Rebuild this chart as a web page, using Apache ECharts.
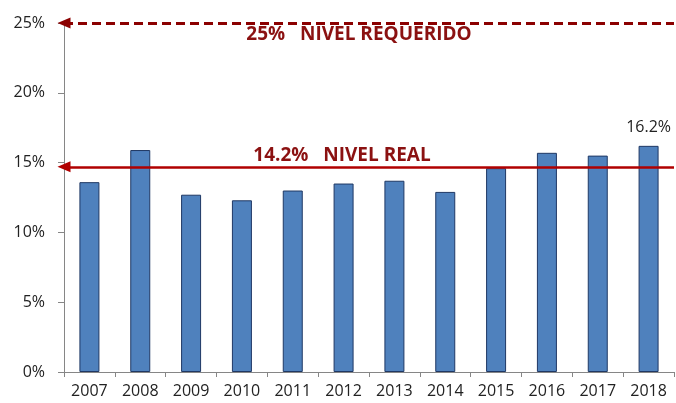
<!DOCTYPE html>
<html>
<head>
<meta charset="utf-8">
<script src="https://cdn.jsdelivr.net/npm/echarts@6/dist/echarts.min.js"></script>
<style>
  html, body { margin: 0; padding: 0; background: #fff; }
  #chart { width: 676px; height: 403px; }
</style>
</head>
<body>
<div id="chart"></div>
<script>
// años y valores (%)
const years = ['2007', '2008', '2009', '2010', '2011', '2012', '2013', '2014', '2015', '2016', '2017', '2018'];
const values = [13.6, 15.9, 12.7, 12.3, 13.0, 13.5, 13.7, 12.9, 14.6, 15.7, 15.5, 16.2];
const requiredLevel = 25;
const realLevel = 14.7;
const requiredText = '25%   NIVEL REQUERIDO';
const realText = '14.2%   NIVEL REAL';

const font = 'Open Sans';
const chart = echarts.init(document.getElementById('chart'));

const barData = values.map((v, i) => {
    if (i === values.length - 1) {
        return {
            value: v,
            label: {
                show: true, position: 'top', distance: 10,
                formatter: '{c}%', color: '#222', fontSize: 16, fontFamily: font
            }
        };
    }
    return v;
});

const option = {
    backgroundColor: '#fff',
    animation: false,
    grid: { left: 64, right: 2, top: 23, bottom: 31 },
    xAxis: {
        type: 'category',
        data: years,
        axisLine: { lineStyle: { color: '#868686', width: 1 } },
        axisTick: { show: true, length: 5, inside: false, lineStyle: { color: '#868686' } },
        axisLabel: { color: '#222', fontSize: 16, fontFamily: font, margin: 11 }
    },
    yAxis: {
        type: 'value',
        min: 0,
        max: 25,
        interval: 5,
        splitLine: { show: false },
        axisLine: { show: true, lineStyle: { color: '#868686', width: 1 } },
        axisTick: { show: true, length: 6, lineStyle: { color: '#868686' } },
        axisLabel: { color: '#222', fontSize: 16, fontFamily: font, margin: 19, formatter: '{value}%' }
    },
    series: [
        {
            type: 'bar',
            data: barData,
            barWidth: 20,
            itemStyle: { color: '#4F81BD', borderColor: '#1F3864', borderWidth: 1 },
            markLine: {
                silent: true,
                symbol: ['triangle', 'none'],
                symbolSize: [11, 13],
                symbolOffset: [0, 8],
                data: [
                    {
                        yAxis: requiredLevel,
                        lineStyle: { color: '#8B0000', width: 3, type: [9, 5] },
                        label: {
                            show: true, position: 'insideMiddleBottom', formatter: requiredText,
                            color: '#8B1111', fontSize: 19, fontWeight: 'bold', fontFamily: font,
                            distance: 2, offset: [-10, 0]
                        }
                    },
                    {
                        yAxis: realLevel,
                        lineStyle: { color: '#B00000', width: 2.5, type: 'solid' },
                        label: {
                            show: true, position: 'insideMiddleTop', formatter: realText,
                            color: '#8B1111', fontSize: 19, fontWeight: 'bold', fontFamily: font,
                            distance: 2, offset: [-27, 0]
                        }
                    }
                ]
            }
        }
    ]
};

chart.setOption(option);
</script>
</body>
</html>
